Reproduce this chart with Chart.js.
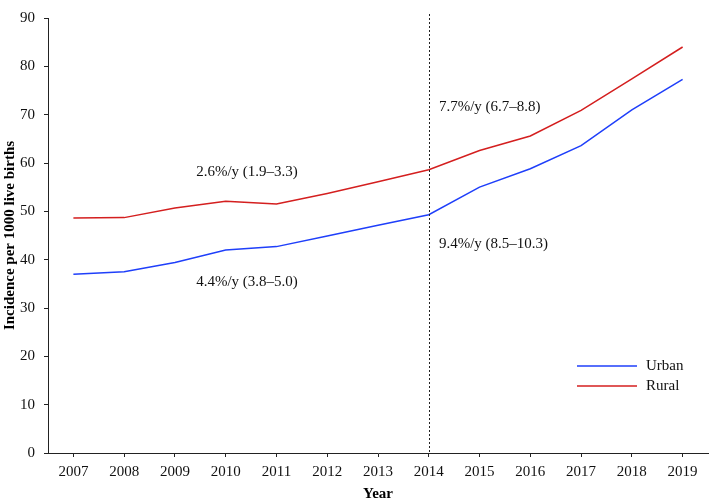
<!DOCTYPE html>
<html>
<head>
<meta charset="utf-8">
<script src="https://cdn.jsdelivr.net/npm/chart.js@4/dist/chart.umd.min.js"></script>
<style>
  body { margin: 0; background: #fff; }
  canvas { display: block; }
</style>
</head>
<body>
<canvas id="myChart" width="709" height="503"></canvas>
<script>
// data
const years = ['2007', '2008', '2009', '2010', '2011', '2012', '2013', '2014', '2015', '2016', '2017', '2018', '2019'];
const urban = [37.0, 37.5, 39.4, 42.0, 42.7, 44.9, 47.1, 49.3, 55.0, 58.8, 63.6, 71.0, 77.3];
const rural = [48.6, 48.7, 50.7, 52.1, 51.5, 53.7, 56.1, 58.6, 62.6, 65.6, 70.9, 77.4, 84.0];
const yTicks = [0, 10, 20, 30, 40, 50, 60, 70, 80, 90];
const splitYear = '2014';

// trend labels: text, x (category index), y (value), alignment
const trendText = ['2.6%/y (1.9\u20133.3)', '4.4%/y (3.8\u20135.0)', '7.7%/y (6.7\u20138.8)', '9.4%/y (8.5\u201310.3)'];
const trendX = [3.42, 3.42, 7.2, 7.2];
const trendY = [58.1, 35.3, 71.6, 43.3];
const trendAlign = ['center', 'center', 'left', 'left'];

const serif = '"Liberation Serif", "Times New Roman", serif';

const extras = {
  id: 'extras',
  afterDatasetsDraw(chart) {
    const ctx = chart.ctx;
    const xs = chart.scales.x, ys = chart.scales.y;
    const area = chart.chartArea;

    // dashed split line
    ctx.save();
    const px = Math.round(xs.getPixelForValue(years.indexOf(splitYear))) + 0.5;
    ctx.strokeStyle = '#222';
    ctx.lineWidth = 1;
    ctx.setLineDash([2, 2]);
    ctx.beginPath();
    ctx.moveTo(px, area.top - 4);
    ctx.lineTo(px, area.bottom);
    ctx.stroke();
    ctx.restore();

    // trend annotations
    ctx.save();
    ctx.fillStyle = '#111';
    ctx.font = '15px ' + serif;
    ctx.textBaseline = 'middle';
    trendText.forEach(function(t, i) {
      ctx.textAlign = trendAlign[i];
      ctx.fillText(t, xs.getPixelForValue(trendX[i]), ys.getPixelForValue(trendY[i]));
    });
    ctx.restore();

    // legend
    ctx.save();
    ctx.font = '15px ' + serif;
    ctx.textBaseline = 'middle';
    ctx.textAlign = 'left';
    chart.data.datasets.forEach(function(ds, i) {
      const y = area.bottom - 87 + i * 20;
      const x0 = area.right - 131;
      ctx.strokeStyle = ds.borderColor;
      ctx.lineWidth = 1.5;
      ctx.beginPath();
      ctx.moveTo(x0, y);
      ctx.lineTo(x0 + 60, y);
      ctx.stroke();
      ctx.fillStyle = '#111';
      ctx.fillText(ds.label, x0 + 69, y);
    });
    ctx.restore();
  }
};

const ctx = document.getElementById('myChart');
new Chart(ctx, {
  type: 'line',
  data: {
    labels: years,
    datasets: [
      { label: 'Urban', data: urban, borderColor: '#1f3ffa', borderWidth: 1.5, pointRadius: 0, tension: 0 },
      { label: 'Rural', data: rural, borderColor: '#d41f1f', borderWidth: 1.5, pointRadius: 0, tension: 0 }
    ]
  },
  options: {
    responsive: false,
    animation: false,
    layout: { padding: { top: 9, right: 1, left: 0, bottom: 0 } },
    plugins: {
      legend: { display: false },
      tooltip: { enabled: false }
    },
    scales: {
      x: {
        offset: true,
        grid: { display: true, drawOnChartArea: false, drawTicks: true, tickLength: 4, color: '#222', offset: false },
        border: { display: true, color: '#222', width: 1 },
        ticks: { color: '#111', font: { family: serif, size: 15 }, padding: 6, maxRotation: 0 },
        title: { display: true, text: 'Year', color: '#000', font: { family: serif, size: 15, weight: 'bold' }, padding: { top: 0, bottom: 0 } },
        afterFit(scale) { scale.height = 50; }
      },
      y: {
        min: 0,
        max: 90,
        afterBuildTicks(scale) { scale.ticks = yTicks.map(v => ({ value: v })); },
        grid: { display: true, drawOnChartArea: false, drawTicks: true, tickLength: 4, color: '#222' },
        border: { display: true, color: '#222', width: 1 },
        ticks: { color: '#111', font: { family: serif, size: 15 }, padding: 9 },
        title: { display: true, text: 'Incidence per 1000 live births', color: '#000', font: { family: serif, size: 15, weight: 'bold' }, padding: { top: 1, bottom: 0 } },
        afterFit(scale) { scale.width = 48; }
      }
    }
  },
  plugins: [extras]
});
</script>
</body>
</html>
